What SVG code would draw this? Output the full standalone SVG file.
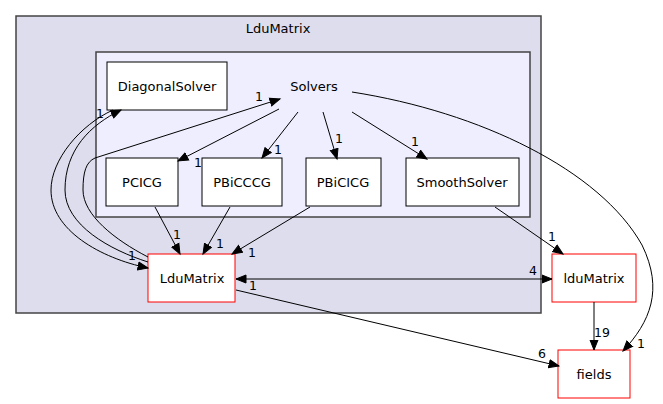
<svg xmlns="http://www.w3.org/2000/svg" width="663" height="404" viewBox="0 0 663 404">
<defs>
<marker id="ah" markerUnits="userSpaceOnUse" markerWidth="13" markerHeight="11" refX="10.5" refY="5" orient="auto-start-reverse">
<path d="M0.5,1 L10.5,5 L0.5,9 z" fill="#000" stroke="#000" stroke-width="1"/>
</marker>
</defs>
<style>
text{font-family:"DejaVu Sans","Liberation Sans",sans-serif;font-size:13px;fill:#000;text-anchor:middle}
.lbl{font-size:12.5px}
.node{fill:#fff;stroke:#000;stroke-width:1}
.red{fill:#fff;stroke:#ff0000;stroke-width:1}
.e{fill:none;stroke:#000;stroke-width:1;marker-end:url(#ah)}
</style>
<rect width="663" height="404" fill="#fff"/>
<g id="cluster_LduMatrix">
<rect x="16" y="16" width="525" height="297" fill="#ddddee" stroke="#444" stroke-width="1.5"/>
<text x="278" y="33">LduMatrix</text>
</g>
<g id="cluster_Solvers">
<rect x="96" y="52" width="434" height="165" fill="#eeeeff" stroke="#444" stroke-width="1.5"/>
<text x="314" y="91">Solvers</text>
</g>
<g id="node_DiagonalSolver"><rect class="node" x="107" y="62" width="120" height="48"/><text x="167" y="91">DiagonalSolver</text></g>
<g id="node_PCICG"><rect class="node" x="106" y="158" width="72" height="48"/><text x="142" y="187">PCICG</text></g>
<g id="node_PBiCCCG"><rect class="node" x="202" y="158" width="80" height="48"/><text x="242" y="187">PBiCCCG</text></g>
<g id="node_PBiCICG"><rect class="node" x="306" y="158" width="75" height="48"/><text x="343" y="187">PBiCICG</text></g>
<g id="node_SmoothSolver"><rect class="node" x="406" y="158" width="113" height="48"/><text x="462" y="187">SmoothSolver</text></g>
<g id="node_LduMatrix"><rect class="red" x="148" y="254" width="87" height="48"/><text x="192" y="283">LduMatrix</text></g>
<g id="node_lduMatrix"><rect class="red" x="552" y="254" width="84" height="48"/><text x="594" y="283">lduMatrix</text></g>
<g id="node_fields"><rect class="red" x="558" y="350" width="72" height="48"/><text x="594" y="379">fields</text></g>
<g id="edges">
<path class="e" d="M113,110 C80,125 51,160 51,190 C51,230 100,258 148,268"/>
<path class="e" d="M148,262 C110,250 65,225 65,190 C65,150 90,125 121,110"/>
<path class="e" d="M148,257 C115,240 83,215 83,190 C83,172 86,162 95,158 L280,99"/>
<path class="e" d="M279,109 L178,161"/>
<path class="e" d="M298,112 L262,158"/>
<path class="e" d="M323,112 L337,159"/>
<path class="e" d="M352,112 L427,159"/>
<path class="e" d="M352,92 C480,112 600,170 642,245 C664,290 650,322 623,351"/>
<path class="e" d="M155,207 L180,254"/>
<path class="e" d="M230,207 L203,254"/>
<path class="e" d="M310,207 L232,254"/>
<path class="e" d="M495,207 L563,254"/>
<path class="e" d="M236,279 L552,279" marker-start="url(#ah)"/>
<path class="e" d="M236,290 L559,366"/>
<path class="e" d="M594,302 L594,350"/>
<text class="lbl" x="100" y="118">1</text>
<text class="lbl" x="132" y="260">1</text>
<text class="lbl" x="259" y="101">1</text>
<text class="lbl" x="198" y="167">1</text>
<text class="lbl" x="278" y="154">1</text>
<text class="lbl" x="339" y="143">1</text>
<text class="lbl" x="415" y="146">1</text>
<text class="lbl" x="641" y="348">1</text>
<text class="lbl" x="177" y="239">1</text>
<text class="lbl" x="220" y="248">1</text>
<text class="lbl" x="252" y="257">1</text>
<text class="lbl" x="552" y="241">1</text>
<text class="lbl" x="533" y="275">4</text>
<text class="lbl" x="253" y="290">1</text>
<text class="lbl" x="542" y="358">6</text>
<text class="lbl" x="602" y="337">19</text>
</g>
</svg>
